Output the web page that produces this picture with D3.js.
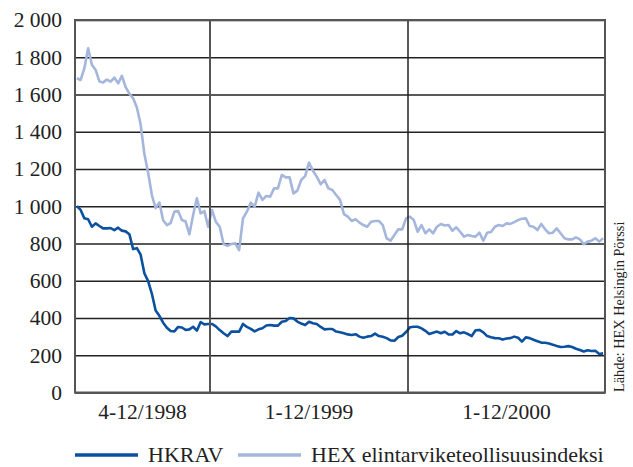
<!DOCTYPE html>
<html>
<head>
<meta charset="utf-8">
<script src="https://cdn.jsdelivr.net/npm/d3@7"></script>
<style>
  body { margin: 0; background: #fff; }
  svg { display: block; }
  text { font-family: "Liberation Serif", "DejaVu Serif", serif; fill: #222; }
</style>
</head>
<body>
<div id="chart"></div>
<script>
// Period labels under the x axis
var periodLabels = ["4-12/1998", "1-12/1999", "1-12/2000"];

// HKRAV, weekly values per period
var hkrav1998 = [1001, 980, 935, 930, 890, 908, 894, 881, 881, 883, 872, 885, 869, 865, 850, 770, 775, 740, 640, 598,
  530, 440, 412, 375, 348, 330, 328, 352, 349, 336, 339, 353, 332, 378, 366, 368];
var hkrav1999 = [368, 355, 335, 318, 303, 327, 327, 327, 368, 352, 342, 328, 339, 345, 360, 362, 359, 359, 380, 384,
  400, 398, 381, 370, 362, 380, 372, 368, 352, 339, 341, 341, 327, 323, 318, 312, 309, 313, 300, 294,
  300, 303, 316, 303, 299, 292, 280, 278, 298, 305, 325];
var hkrav2000 = [350, 353, 353, 344, 331, 314, 321, 327, 318, 326, 312, 311, 330, 318, 323, 314, 303, 334, 336, 323,
  303, 297, 292, 291, 284, 290, 292, 300, 294, 273, 296, 292, 283, 275, 268, 267, 263, 257, 250, 244,
  246, 249, 244, 235, 228, 220, 227, 223, 224, 207, 210];

// HEX elintarviketeollisuusindeksi, weekly values per period
var hex1998 = [1687, 1678, 1741, 1848, 1760, 1732, 1670, 1665, 1680, 1669, 1690, 1660, 1700, 1640, 1605, 1580, 1530, 1440, 1280, 1180,
  1060, 990, 1020, 925, 899, 910, 971, 974, 926, 918, 849, 953, 1043, 962, 974, 890];
var hex1999 = [980, 917, 890, 797, 787, 797, 801, 765, 935, 971, 1019, 998, 1073, 1034, 1055, 1051, 1096, 1096, 1168, 1155,
  1155, 1069, 1084, 1141, 1162, 1234, 1191, 1159, 1118, 1141, 1096, 1087, 1060, 1034, 958, 944, 921, 930, 912, 899,
  890, 917, 921, 921, 899, 828, 815, 846, 876, 876, 935];
var hex2000 = [944, 926, 863, 899, 855, 876, 855, 890, 905, 897, 899, 869, 887, 863, 837, 846, 840, 837, 858, 815,
  858, 862, 890, 899, 894, 908, 905, 915, 926, 933, 935, 894, 890, 872, 905, 876, 855, 858, 881, 855,
  828, 822, 822, 833, 822, 797, 810, 815, 828, 810, 828];

var yTicks = [0, 200, 400, 600, 800, 1000, 1200, 1400, 1600, 1800, 2000];

var seriesNames = ["HKRAV", "HEX elintarviketeollisuusindeksi"];
var seriesColors = ["#0b51a0", "#a5b6dc"];

var hkrav = hkrav1998.concat(hkrav1999, hkrav2000);
var hex = hex1998.concat(hex1999, hex2000);

var width = 633, height = 467;
var plotLeft = 75, plotRight = 605, plotTop = 20, plotBottom = 392.5;

var svg = d3.select("#chart").append("svg")
  .attr("width", width)
  .attr("height", height);

// period boundaries in point index
var n1 = hkrav1998.length, n2 = hkrav1999.length, n3 = hkrav2000.length;
var bounds = [-0.5, n1 - 0.5, n1 + n2 - 0.5, n1 + n2 + n3 - 0.5];

var x = d3.scaleLinear()
  .domain(bounds)
  .range([plotLeft, 210, 408, plotRight]);

var y = d3.scaleLinear()
  .domain([0, 2000])
  .range([plotBottom, plotTop]);

// y axis with gridlines
var yAxis = svg.append("g")
  .attr("transform", "translate(" + plotLeft + ",0)")
  .call(d3.axisLeft(y)
    .tickValues(yTicks)
    .tickSize(-(plotRight - plotLeft))
    .tickPadding(13)
    .tickFormat(function(d) { return d3.format(",")(d).replace(",", " "); }));

yAxis.select(".domain").remove();
yAxis.selectAll(".tick line")
  .attr("stroke", "#222")
  .attr("stroke-width", 1.3);
yAxis.selectAll(".tick text")
  .style("font-family", "Liberation Serif")
  .style("font-size", "21.5px")
  .attr("fill", "#222");

// lines
var line = d3.line()
  .x(function(d, i) { return x(i); })
  .y(function(d) { return y(d); });

svg.append("path")
  .datum(hex)
  .attr("d", line)
  .attr("fill", "none")
  .attr("stroke", seriesColors[1])
  .attr("stroke-width", 2.6)
  .attr("stroke-linejoin", "round");

svg.append("path")
  .datum(hkrav)
  .attr("d", line)
  .attr("fill", "none")
  .attr("stroke", seriesColors[0])
  .attr("stroke-width", 2.6)
  .attr("stroke-linejoin", "round");

// period dividers
svg.append("line")
  .attr("x1", x(bounds[1])).attr("x2", x(bounds[1]))
  .attr("y1", plotTop).attr("y2", plotBottom)
  .attr("stroke", "#555").attr("stroke-width", 2);
svg.append("line")
  .attr("x1", x(bounds[2])).attr("x2", x(bounds[2]))
  .attr("y1", plotTop).attr("y2", plotBottom)
  .attr("stroke", "#222").attr("stroke-width", 1.5);

// frame
svg.append("rect")
  .attr("x", plotLeft).attr("y", plotTop)
  .attr("width", plotRight - plotLeft).attr("height", plotBottom - plotTop)
  .attr("fill", "none")
  .attr("stroke", "#555")
  .attr("stroke-width", 2);

// period labels
periodLabels.forEach(function(lbl, i) {
  svg.append("text")
    .attr("x", (x(bounds[i]) + x(bounds[i + 1])) / 2)
    .attr("y", 419)
    .attr("text-anchor", "middle")
    .style("font-size", "21.5px")
    .text(lbl);
});

// source note
svg.append("text")
  .attr("transform", "translate(624,392) rotate(-90)")
  .style("font-size", "14.3px")
  .text("Lähde: HEX Helsingin Pörssi");

// legend
var legendX = [75, 238];
seriesNames.forEach(function(name, i) {
  var g = svg.append("g").attr("transform", "translate(" + legendX[i] + ",455)");
  g.append("line")
    .attr("x1", 0).attr("x2", 63)
    .attr("stroke", seriesColors[i])
    .attr("stroke-width", 3.5);
  g.append("text")
    .attr("x", 73)
    .attr("y", 7)
    .style("font-size", "22px")
    .text(name);
});
</script>
</body>
</html>
